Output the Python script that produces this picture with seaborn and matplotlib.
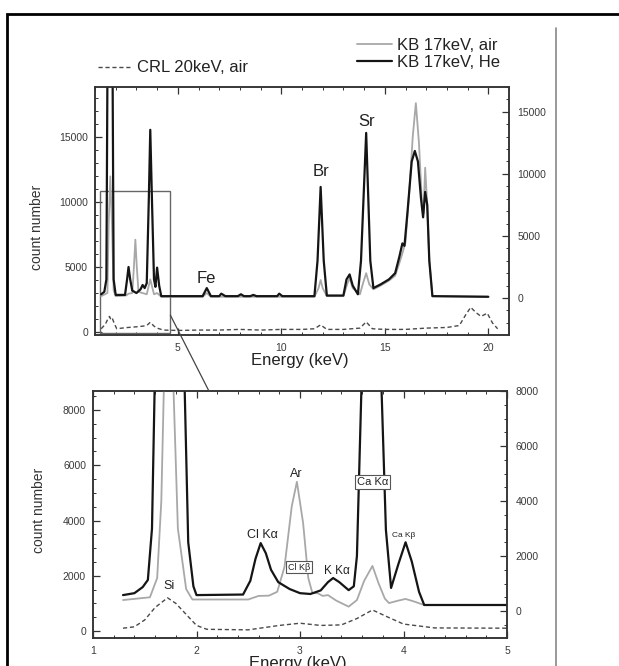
import matplotlib
matplotlib.use("Agg")
import matplotlib.pyplot as plt
from matplotlib.patches import Rectangle, ConnectionPatch
from matplotlib.lines import Line2D
from matplotlib.ticker import MultipleLocator
import seaborn as sns

# Datos del panel de arriba (espectro completo)
# CRL 20keV, aire -> eje izquierdo
energiaArribaCrl = [1.3, 1.5, 1.62, 1.7, 1.78, 1.85, 1.92, 2.05, 2.3, 2.6, 3.0, 3.3, 3.5, 3.67, 3.85,
                    4.0, 4.3, 5, 6, 7, 8, 9, 10, 11, 11.6, 11.9, 12.2, 13, 13.8, 14.1, 14.4, 15, 16,
                    17, 18, 18.6, 18.9, 19.15, 19.4, 19.65, 19.95, 20.2, 20.45]
cuentasArribaCrl = [250, 600, 1000, 1200, 900, 1000, 700, 250, 300, 350, 400, 450, 500, 750, 450,
                    300, 150, 120, 150, 150, 200, 150, 200, 200, 250, 550, 200, 200, 300, 780, 250, 200, 200,
                    300, 350, 500, 1300, 1900, 1500, 1200, 1450, 700, 250]

# KB 17keV, He -> eje derecho
energiaArribaHe = [1.3, 1.45, 1.55, 1.6, 1.85, 1.9, 2.0, 2.45, 2.55, 2.62, 2.7, 2.8, 3.0, 3.2, 3.3,
                   3.4, 3.5, 3.6, 3.67, 3.75, 3.85, 3.92, 4.0, 4.1, 4.2, 6.2, 6.4, 6.6, 7.0, 7.1,
                   7.3, 7.9, 8.05, 8.2, 8.5, 8.65, 8.8, 9.8, 9.9, 10.05, 11.6, 11.75, 11.9, 12.05, 12.2,
                   13.0, 13.15, 13.3, 13.45, 13.7, 13.85, 14.1, 14.3, 14.45, 14.8, 15.2, 15.5, 15.7, 15.85,
                   15.95, 16.1, 16.3, 16.45, 16.6, 16.75, 16.85, 16.95, 17.05, 17.15, 17.3, 20.0]
cuentasArribaHe = [300, 500, 1500, 18000, 18000, 1500, 250, 250, 1500, 2500, 1500, 600, 400, 700, 1050,
                   800, 1200, 8000, 13550, 8000, 1500, 900, 2450, 1000, 150, 150, 800, 150, 150, 350,
                   150, 150, 300, 150, 150, 250, 150, 150, 350, 150, 150, 3000, 8950, 3000, 200,
                   200, 1500, 1900, 1000, 300, 3000, 13300, 3000, 800, 1100, 1500, 2000, 3300, 4400,
                   4200, 7000, 11000, 11850, 11000, 8000, 6500, 8550, 7500, 3000, 150, 100]

# KB 17keV, aire -> eje derecho
energiaArribaAire = [1.3, 1.6, 1.66, 1.74, 1.82, 1.9, 2.0, 2.5, 2.62, 2.8, 2.88, 2.95, 3.02, 3.1, 3.3,
                     3.5, 3.67, 3.85, 4.0, 4.2, 6.2, 6.4, 6.6, 11.6, 11.8, 11.9, 12.0, 12.2, 13.0, 13.2,
                     13.3, 13.45, 13.8, 13.95, 14.1, 14.25, 14.45, 14.8, 15.2, 15.5, 15.7, 15.85, 16.0,
                     16.2, 16.35, 16.5, 16.65, 16.8, 16.87, 16.95, 17.05, 17.15, 17.3, 20.0]
cuentasArribaAire = [150, 400, 6000, 9800, 6000, 600, 150, 200, 350, 400, 2500, 4700, 2500, 500, 400,
                     300, 1500, 300, 400, 100, 100, 400, 100, 100, 800, 1450, 800, 150, 150, 1200,
                     1600, 800, 300, 1200, 2000, 1100, 700, 1000, 1400, 1800, 2800, 3600, 4500,
                     9000, 13000, 15700, 12500, 7500, 6800, 10500, 7500, 3000, 150, 100]

# Datos del panel de abajo (zoom 1-5 keV)
energiaAbajoCrl = [1.29, 1.4, 1.5, 1.6, 1.72, 1.8, 1.9, 2.0, 2.1, 2.5, 2.8, 3.0, 3.2, 3.4, 3.55,
                   3.7, 3.85, 4.0, 4.3, 5.0]
cuentasAbajoCrl = [100, 150, 400, 850, 1200, 1000, 600, 200, 60, 40, 200, 280, 200, 220, 450,
                   760, 500, 250, 110, 100]

energiaAbajoHe = [1.29, 1.4, 1.48, 1.53, 1.57, 1.6, 1.88, 1.92, 1.97, 2.0, 2.45, 2.52, 2.57, 2.62,
                  2.67, 2.72, 2.79, 2.9, 3.0, 3.1, 3.2, 3.27, 3.32, 3.38, 3.47, 3.52, 3.55, 3.6,
                  3.78, 3.83, 3.88, 3.95, 4.02, 4.08, 4.15, 4.2, 5.0]
cuentasAbajoHe = [580, 650, 870, 1130, 3000, 9000, 9000, 2500, 900, 580, 600, 1100, 1900, 2470,
                  2100, 1500, 1050, 800, 650, 620, 750, 1050, 1200, 1050, 760, 900, 2000, 9000,
                  9000, 2950, 840, 1700, 2500, 1800, 700, 220, 220]

energiaAbajoAire = [1.29, 1.55, 1.62, 1.66, 1.69, 1.77, 1.82, 1.9, 1.96, 2.5, 2.6, 2.7, 2.78, 2.85,
                    2.92, 2.97, 3.03, 3.08, 3.12, 3.17, 3.22, 3.27, 3.35, 3.47, 3.55, 3.62, 3.7,
                    3.76, 3.82, 3.86, 3.95, 4.02, 4.1, 4.2, 5.0]
cuentasAbajoAire = [400, 500, 1200, 4000, 9000, 9000, 3000, 800, 420, 420, 550, 560, 700, 1600,
                    3800, 4700, 3200, 1200, 650, 650, 550, 580, 380, 160, 400, 1100, 1640,
                    1000, 450, 290, 380, 440, 350, 220, 220]

# Etiquetas de los picos
picosArriba = [("Fe", 6.4, 1550), ("Br", 11.9, 10200), ("Sr", 14.1, 14250)]
picosAbajo = [("Si", 1.73, 910, 9, False), ("Cl K\u03b1", 2.64, 2780, 9, False),
              ("Ar", 2.96, 5000, 9, False), ("Cl K\u03b2", 2.99, 1600, 6.5, True),
              ("K K\u03b1", 3.36, 1450, 8.5, False), ("Ca K\u03b1", 3.7, 4690, 8, True),
              ("Ca K\u03b2", 4.0, 2750, 6, False)]

sns.set_theme(style="ticks")
plt.rcParams["font.family"] = ["Liberation Sans", "DejaVu Sans"]

colorNegro = "#151515"
colorGris = "#a8a8a8"
colorCrl = "#4a4a4a"
colorEje = "#333333"

fig = plt.figure(figsize=(6.19, 6.66), dpi=100)
axArriba = fig.add_axes([95 / 619, 1 - 335 / 666, 414 / 619, 248 / 666])
axAbajo = fig.add_axes([93 / 619, 1 - 638 / 666, 414 / 619, 247 / 666])
axArribaDer = axArriba.twinx()
axAbajoDer = axAbajo.twinx()

# Lineas
sns.lineplot(x=energiaArribaCrl, y=cuentasArribaCrl, ax=axArriba, sort=False, estimator=None,
             color=colorCrl, linewidth=1.0, linestyle=(0, (3, 2)))
sns.lineplot(x=energiaArribaAire, y=cuentasArribaAire, ax=axArribaDer, sort=False, estimator=None,
             color=colorGris, linewidth=1.3)
sns.lineplot(x=energiaArribaHe, y=cuentasArribaHe, ax=axArribaDer, sort=False, estimator=None,
             color=colorNegro, linewidth=1.6)

sns.lineplot(x=energiaAbajoCrl, y=cuentasAbajoCrl, ax=axAbajo, sort=False, estimator=None,
             color=colorCrl, linewidth=1.0, linestyle=(0, (3, 2)))
sns.lineplot(x=energiaAbajoAire, y=cuentasAbajoAire, ax=axAbajoDer, sort=False, estimator=None,
             color=colorGris, linewidth=1.3)
sns.lineplot(x=energiaAbajoHe, y=cuentasAbajoHe, ax=axAbajoDer, sort=False, estimator=None,
             color=colorNegro, linewidth=1.6)

# Limites y ticks
axArriba.set_xlim(1, 21)
axArriba.set_ylim(-230, 18850)
axArribaDer.set_ylim(-2980, 17000)
axAbajo.set_xlim(1, 5)
axAbajo.set_ylim(-255, 8690)
axAbajoDer.set_ylim(-980, 8000)

for ax in [axArriba, axArribaDer, axAbajo, axAbajoDer]:
    for lado in ax.spines.values():
        lado.set_color(colorEje)
        lado.set_linewidth(1.1)
    ax.tick_params(which="both", direction="in", colors=colorEje, labelcolor="#3a3a3a",
                   labelsize=7.5, top=True)
    ax.tick_params(which="major", length=5, width=0.9)
    ax.tick_params(which="minor", length=2.5, width=0.7)
    ax.set_xlabel("")
    ax.set_ylabel("")

axArriba.xaxis.set_major_locator(MultipleLocator(5))
axArriba.xaxis.set_minor_locator(MultipleLocator(1))
axArriba.yaxis.set_major_locator(MultipleLocator(5000))
axArriba.yaxis.set_minor_locator(MultipleLocator(1000))
axArribaDer.yaxis.set_major_locator(MultipleLocator(5000))
axArribaDer.yaxis.set_minor_locator(MultipleLocator(1000))
axAbajo.xaxis.set_major_locator(MultipleLocator(1))
axAbajo.xaxis.set_minor_locator(MultipleLocator(0.2))
axAbajo.yaxis.set_major_locator(MultipleLocator(2000))
axAbajo.yaxis.set_minor_locator(MultipleLocator(500))
axAbajoDer.yaxis.set_major_locator(MultipleLocator(2000))
axAbajoDer.yaxis.set_minor_locator(MultipleLocator(500))
for ax in [axArriba, axAbajo]:
    ax.tick_params(axis="y", which="both", right=False, pad=5)
    ax.tick_params(axis="x", pad=6)
for ax in [axArribaDer, axAbajoDer]:
    ax.tick_params(axis="y", which="both", left=False, pad=6)

# Titulos de ejes
for ax, xEt, yEt, yx in [(axArriba, -0.074, -0.123, 0.435), (axAbajo, -0.072, -0.114, 0.518)]:
    ax.set_xlabel("Energy (keV)", fontsize=12, color="#222222")
    ax.xaxis.set_label_coords(0.495, xEt)
    ax.set_ylabel("count number", fontsize=10, color="#333333")
    ax.yaxis.set_label_coords(yEt, yx)

# Etiquetas de picos
for texto, x, y in picosArriba:
    axArribaDer.text(x, y, texto, fontsize=12, ha="center", va="center", color="#222222")
for texto, x, y, tam, caja in picosAbajo:
    bbox = dict(boxstyle="square,pad=0.2", fc="white", ec="#555555", lw=0.8) if caja else None
    axAbajoDer.text(x, y, texto, fontsize=tam, ha="center", va="center", color="#222222", bbox=bbox)

# Recuadro del zoom y linea de conexion
axArriba.add_patch(Rectangle((1.25, -80), 3.39, 10930, fill=False, ec="#666666", lw=1.0, zorder=5))
conexion = ConnectionPatch(xyA=(4.64, 1300), coordsA=axArriba.transData,
                           xyB=(2.12, 8690), coordsB=axAbajo.transData,
                           color="#444444", lw=0.9)
fig.add_artist(conexion)

# Leyendas
manejoCrl = Line2D([], [], color=colorCrl, lw=1.0, linestyle=(0, (3, 2)))
manejoAire = Line2D([], [], color=colorGris, lw=1.3)
manejoHe = Line2D([], [], color=colorNegro, lw=1.6)
leyenda1 = fig.legend([manejoCrl], ["CRL 20keV, air"], loc="center left",
                      bbox_to_anchor=(98 / 619, 1 - 68 / 666), frameon=False, fontsize=12,
                      handlelength=2.0, handletextpad=0.35, borderpad=0, borderaxespad=0)
leyenda2 = fig.legend([manejoAire, manejoHe], ["KB 17keV, air", "KB 17keV, He"], loc="center left",
                      bbox_to_anchor=(357 / 619, 1 - 54 / 666), frameon=False, fontsize=12,
                      handlelength=2.1, handletextpad=0.3, labelspacing=0.12, borderpad=0,
                      borderaxespad=0)
for ley in [leyenda1, leyenda2]:
    for t in ley.get_texts():
        t.set_color("#222222")

# Marco exterior y linea vertical gris
fig.add_artist(Rectangle((7 / 619, -0.05), 1.1, 1.05 - 14 / 666, transform=fig.transFigure,
                         fill=False, ec="black", lw=2.0, clip_on=False))
fig.add_artist(Line2D([556 / 619, 556 / 619], [0, 1 - 28 / 666], transform=fig.transFigure,
                      color="#888888", lw=1.2))

fig.savefig("out.png", dpi=100)
